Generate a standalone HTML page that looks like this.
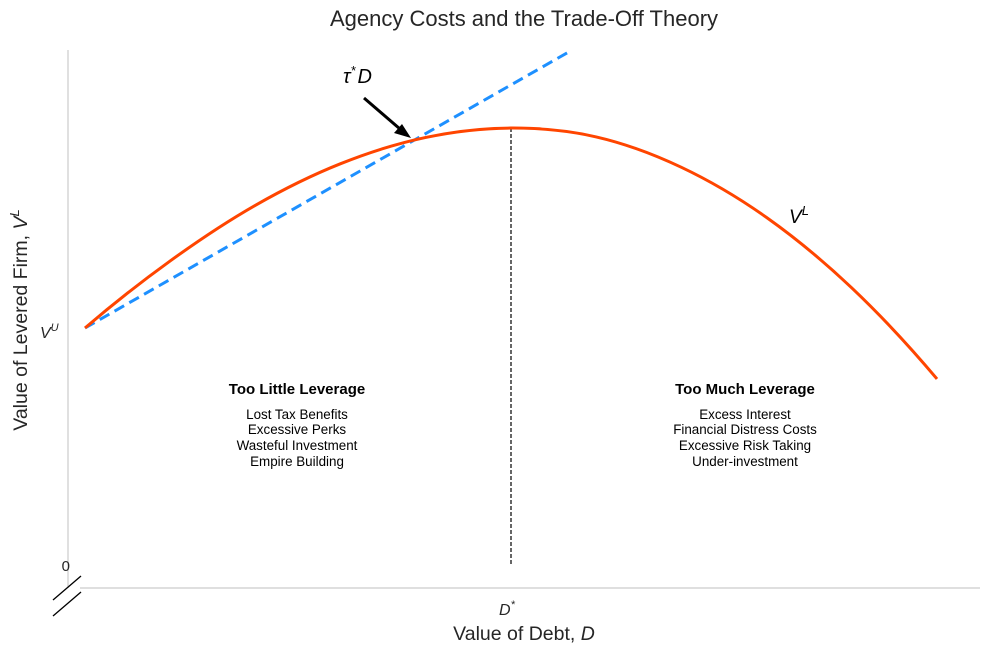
<!DOCTYPE html>
<html><head><meta charset="utf-8"><style>
body{margin:0;background:#fff;font-family:"Liberation Sans",sans-serif}
svg text{font-family:"Liberation Sans",sans-serif}
</style></head><body>
<svg id="chart" width="989" height="654" xmlns="http://www.w3.org/2000/svg">
<text x="524" y="26" text-anchor="middle" font-size="22" fill="#262626">Agency Costs and the Trade-Off Theory</text>
<line x1="68" y1="50" x2="68" y2="588" stroke="#ccc" stroke-width="1.2"/>
<line x1="80" y1="588" x2="980" y2="588" stroke="#ccc" stroke-width="1.2"/>
<line x1="53" y1="600" x2="81" y2="576" stroke="#000" stroke-width="1.3"/>
<line x1="53" y1="616" x2="81" y2="592" stroke="#000" stroke-width="1.3"/>
<text x="70" y="571" text-anchor="end" font-size="15" fill="#262626">0</text>
<text x="40" y="338" font-size="16" font-style="italic" fill="#262626">V<tspan font-size="11" dy="-7">U</tspan></text>
<text x="499" y="615" font-size="16" font-style="italic" fill="#262626">D<tspan font-size="11" dy="-7">*</tspan></text>
<text x="524" y="640" text-anchor="middle" font-size="19.5" fill="#262626">Value of Debt, <tspan font-style="italic">D</tspan></text>
<text transform="translate(27,320) rotate(-90)" text-anchor="middle" font-size="19.5" fill="#262626">Value of Levered Firm, <tspan font-style="italic">V</tspan><tspan font-size="13" dy="-8" font-style="italic">L</tspan></text>
<g id="marks"></g>
<text x="789" y="223" font-size="19" font-style="italic" fill="#000">V<tspan font-size="13" dy="-8">L</tspan></text>
<text x="343" y="83" font-size="20" font-style="italic" fill="#000">τ<tspan font-size="13" dy="-8">*</tspan><tspan dy="8" dx="2">D</tspan></text>
<line x1="364" y1="98" x2="400" y2="129" stroke="#000" stroke-width="3"/>
<polygon points="411,138 394,133 402,124" fill="#000"/>
<g font-size="13.4" fill="#000" text-anchor="middle">
<text x="297" y="394" font-weight="bold" font-size="15">Too Little Leverage</text>
<text x="297" y="419">Lost Tax Benefits</text>
<text x="297" y="434">Excessive Perks</text>
<text x="297" y="450">Wasteful Investment</text>
<text x="297" y="466">Empire Building</text>
<text x="745" y="394" font-weight="bold" font-size="15">Too Much Leverage</text>
<text x="745" y="419">Excess Interest</text>
<text x="745" y="434">Financial Distress Costs</text>
<text x="745" y="450">Excessive Risk Taking</text>
<text x="745" y="466">Under-investment</text>
</g>
</svg>
<script>
const debtLevels=[0,1,2,3,4,5,6,7,8,9,10];
const leveredValue=[1.0,1.258,1.472,1.632,1.733,1.769,1.735,1.618,1.425,1.154,0.804];
const unleveredValue=[1.0];
const taxRate=[0.187];
const optimalDebt=[5];
const X=d=>85+d*85.2, Y=v=>588-v*260;
const g=document.getElementById('marks');
const NS='http://www.w3.org/2000/svg';
const dmax=(2.069-unleveredValue[0])/taxRate[0];
const dl=document.createElementNS(NS,'line');
dl.setAttribute('x1',X(0));dl.setAttribute('y1',Y(unleveredValue[0]));
dl.setAttribute('x2',X(dmax));dl.setAttribute('y2',Y(unleveredValue[0]+taxRate[0]*dmax));
dl.setAttribute('stroke','#1e90ff');dl.setAttribute('stroke-width','3');dl.setAttribute('stroke-dasharray','11,6');


g.appendChild(dl);
let vi=debtLevels.indexOf(optimalDebt[0]);
const vl=document.createElementNS(NS,'line');
vl.setAttribute('x1',X(optimalDebt[0]));vl.setAttribute('x2',X(optimalDebt[0]));
vl.setAttribute('y1',Y(leveredValue[vi]));vl.setAttribute('y2',566);
vl.setAttribute('stroke','#000');vl.setAttribute('stroke-width','1.2');vl.setAttribute('stroke-dasharray','4,2');


g.appendChild(vl);
const P=debtLevels.map((d,i)=>[X(d),Y(leveredValue[i])]);
const n=P.length;
const ext=i=>{
 if(i<0) return [2*P[0][0]-P[1][0],2*P[0][1]-P[1][1]+(P[2][1]-2*P[1][1]+P[0][1])];
 if(i>=n) return [2*P[n-1][0]-P[n-2][0],2*P[n-1][1]-P[n-2][1]+(P[n-1][1]-2*P[n-2][1]+P[n-3][1])];
 return P[i];
};
let s='M'+P[0][0]+','+P[0][1];
for(let i=0;i<n-1;i++){
 const p0=ext(i-1),p1=P[i],p2=P[i+1],p3=ext(i+2);
 s+=' C'+(p1[0]+(p2[0]-p0[0])/6)+','+(p1[1]+(p2[1]-p0[1])/6)+' '+(p2[0]-(p3[0]-p1[0])/6)+','+(p2[1]-(p3[1]-p1[1])/6)+' '+p2[0]+','+p2[1];
}
const c=document.createElementNS(NS,'path');
c.setAttribute('d',s);c.setAttribute('fill','none');c.setAttribute('stroke','#ff4500');c.setAttribute('stroke-width','3');


g.appendChild(c);
</script>
</body></html>
